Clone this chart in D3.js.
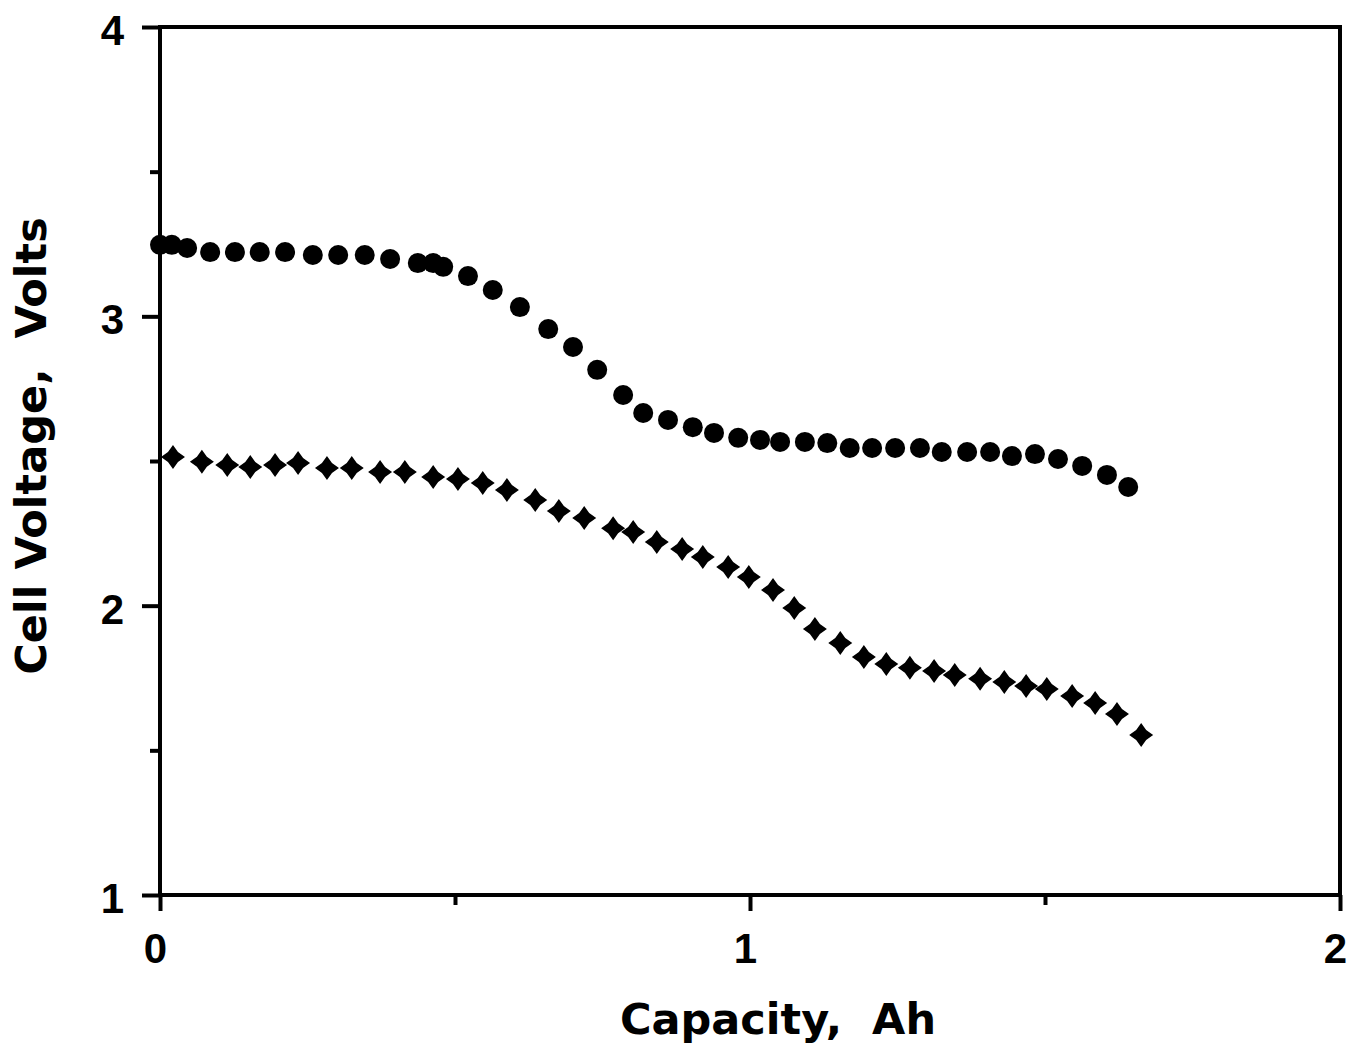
<!DOCTYPE html>
<html>
<head>
<meta charset="utf-8">
<script src="https://cdn.jsdelivr.net/npm/d3@7"></script>
<style>
  body { margin: 0; background: #fff; }
  svg { display: block; }
  .axis path, .axis line { stroke: #000; }
  .axis text { font-family: "Liberation Sans", Arial, sans-serif; font-weight: bold; font-size: 42px; fill: #000; }
  .title { font-family: "DejaVu Sans", sans-serif; font-weight: bold; font-size: 43px; fill: #000; white-space: pre; }
</style>
</head>
<body>
<svg id="chart"></svg>
<script>
// capacity (Ah) / voltage (V)
const dotCap = [0, 0.02, 0.046, 0.085, 0.127, 0.169, 0.212, 0.259, 0.302, 0.347, 0.39, 0.437, 0.463, 0.48,
  0.522, 0.564, 0.61, 0.658, 0.7, 0.741, 0.785, 0.819, 0.861, 0.903, 0.939, 0.98, 1.017, 1.051, 1.093,
  1.131, 1.169, 1.207, 1.246, 1.288, 1.325, 1.368, 1.407, 1.444, 1.483, 1.522, 1.563, 1.605, 1.641];
const dotVolt = [3.247, 3.247, 3.236, 3.222, 3.222, 3.222, 3.222, 3.212, 3.212, 3.212, 3.198, 3.184, 3.184, 3.171,
  3.139, 3.091, 3.032, 2.956, 2.894, 2.815, 2.728, 2.666, 2.642, 2.617, 2.597, 2.58, 2.573, 2.566, 2.566,
  2.562, 2.545, 2.545, 2.545, 2.545, 2.531, 2.531, 2.531, 2.517, 2.524, 2.507, 2.483, 2.452, 2.41];

const crossCap = [0.022, 0.071, 0.114, 0.153, 0.195, 0.234, 0.283, 0.325, 0.373, 0.415, 0.463, 0.505, 0.547,
  0.588, 0.636, 0.676, 0.719, 0.768, 0.802, 0.842, 0.885, 0.92, 0.963, 0.998, 1.039, 1.075, 1.11, 1.153,
  1.193, 1.231, 1.271, 1.312, 1.347, 1.39, 1.431, 1.468, 1.503, 1.546, 1.585, 1.622, 1.663];
const crossVolt = [2.514, 2.497, 2.486, 2.479, 2.486, 2.493, 2.476, 2.476, 2.462, 2.462, 2.445, 2.438, 2.424,
  2.4, 2.365, 2.327, 2.303, 2.268, 2.255, 2.22, 2.196, 2.168, 2.134, 2.099, 2.054, 1.992, 1.919, 1.871,
  1.823, 1.798, 1.785, 1.774, 1.76, 1.747, 1.736, 1.722, 1.712, 1.688, 1.664, 1.626, 1.553];

const xTicks = [0, 1, 2];
const xMinor = [0.5, 1.5];
const yTicks = [1, 2, 3, 4];
const yMinor = [1.5, 2.5, 3.5];

// dimensions
const W = 1352, H = 1052;
const margin = {top: 27, right: 12, bottom: 157, left: 160};
const width = W - margin.left - margin.right;
const height = H - margin.top - margin.bottom;

const svg = d3.select('#chart').attr('width', W).attr('height', H);
const g = svg.append('g').attr('transform', 'translate(' + margin.left + ',' + margin.top + ')');

// scales
const x = d3.scaleLinear().domain([0, 2]).range([0, width]);
const y = d3.scaleLinear().domain([1, 4]).range([height, 0]);

// frame
g.append('rect')
  .attr('width', width).attr('height', height)
  .attr('fill', 'none').attr('stroke', '#000').attr('stroke-width', 4);

// axes
const xAxis = g.append('g').attr('class', 'axis')
  .attr('transform', 'translate(0,' + height + ')')
  .call(d3.axisBottom(x).tickValues(xTicks).tickSize(16).tickPadding(22).tickFormat(d3.format('d')));
xAxis.selectAll('text').attr('dx', -5);

g.append('g').attr('class', 'axis')
  .attr('transform', 'translate(0,' + height + ')')
  .call(d3.axisBottom(x).tickValues(xMinor).tickSize(10).tickFormat(''));

const yAxis = g.append('g').attr('class', 'axis')
  .call(d3.axisLeft(y).tickValues(yTicks).tickSize(18).tickPadding(18).tickFormat(d3.format('d')));
yAxis.selectAll('text').attr('dy', '0.42em');

g.append('g').attr('class', 'axis')
  .call(d3.axisLeft(y).tickValues(yMinor).tickSize(10).tickFormat(''));

g.selectAll('.axis path').remove();
g.selectAll('.axis line').attr('stroke-width', 4);

// markers
const dots = dotCap.map((c, i) => ({cap: c, volt: dotVolt[i]}));
const crosses = crossCap.map((c, i) => ({cap: c, volt: crossVolt[i]}));

g.selectAll('.dot')
  .data(dots)
  .enter()
  .append('circle')
  .attr('class', 'dot')
  .attr('cx', d => x(d.cap))
  .attr('cy', d => y(d.volt))
  .attr('r', 10)
  .attr('fill', '#000');

const star = 'M0,-12L5,-5L12,0L5,5L0,12L-5,5L-12,0L-5,-5Z';
g.selectAll('.cross')
  .data(crosses)
  .enter()
  .append('path')
  .attr('class', 'cross')
  .attr('d', star)
  .attr('transform', d => 'translate(' + x(d.cap) + ',' + y(d.volt) + ')')
  .attr('fill', '#000');

// titles
svg.append('text')
  .attr('class', 'title')
  .attr('x', 778)
  .attr('y', 1034)
  .attr('text-anchor', 'middle')
  .text('Capacity,  Ah');

svg.append('text')
  .attr('class', 'title')
  .attr('transform', 'translate(46,446) rotate(-90)')
  .attr('text-anchor', 'middle')
  .text('Cell Voltage,  Volts');
</script>
</body>
</html>
